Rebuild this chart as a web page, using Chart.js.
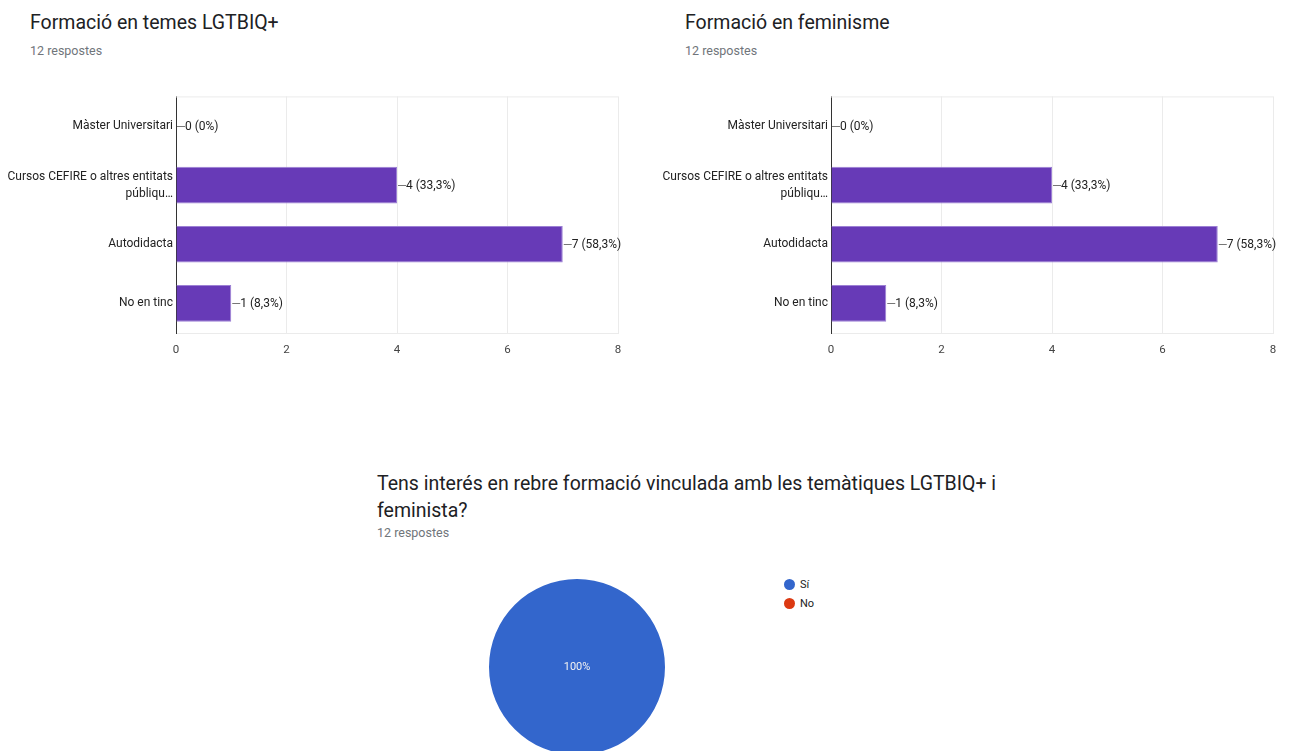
<!DOCTYPE html>
<html>
<head>
<meta charset="utf-8">
<script src="https://cdn.jsdelivr.net/npm/chart.js@4.4.0/dist/chart.umd.min.js"></script>
<style>
  html, body { margin: 0; padding: 0; background: #fff; overflow: hidden; }
  body { width: 1295px; height: 751px; position: relative; font-family: Roboto, Arial, sans-serif; }
  .title { position: absolute; font-size: 19.5px; color: #202124; line-height: 27px; }
  .sub { position: absolute; font-size: 12.5px; color: #70757a; }
  canvas { position: absolute; }
  #pie-legend { position: absolute; left: 784px; top: 575px; font-size: 11px; color: #222; }
  #pie-legend div { height: 19px; display: flex; align-items: center; }
  #pie-legend span.dot { width: 11px; height: 11px; border-radius: 50%; display: inline-block; margin-right: 5px; }
</style>
</head>
<body>
<div class="title" style="left:30px; top:9px;">Formació en temes LGTBIQ+</div>
<div class="sub" style="left:30px; top:43px;">12 respostes</div>
<div class="title" style="left:685px; top:9px;">Formació en feminisme</div>
<div class="sub" style="left:685px; top:43px;">12 respostes</div>

<canvas id="lgtbi" width="650" height="278" style="left:0; top:85px;"></canvas>
<canvas id="feminism" width="640" height="278" style="left:655px; top:85px;"></canvas>

<div class="title" style="left:377px; top:470px;">Tens interés en rebre formació vinculada amb les temàtiques LGTBIQ+ i<br>feminista?</div>
<div class="sub" style="left:377px; top:525px;">12 respostes</div>

<canvas id="pie" width="176" height="176" style="left:489px; top:579px;"></canvas>
<div id="pie-legend"></div>

<script>
const categories = ['Màster Universitari', ['Cursos CEFIRE o altres entitats', 'públiqu…'], 'Autodidacta', 'No en tinc'];
const lgtbiValues = [0, 4, 7, 1];
const feminismValues = [0, 4, 7, 1];
const xTicks = [0, 2, 4, 6, 8];
const totalResponses = 12;

const pieLabels = ['Sí', 'No'];
const pieValues = [12, 0];
const pieColors = ['#3366cc', '#dc3912'];

Chart.defaults.font.family = 'Roboto, Arial, sans-serif';
Chart.defaults.font.size = 12;
Chart.defaults.color = '#222';

function pct(v) {
    let p = Math.round(v / totalResponses * 1000) / 10;
    return String(p).replace('.', ',') + '%';
}

// label "—4 (33,3%)" after each bar
const valueLabels = {
    id: 'valueLabels',
    afterDatasetsDraw(chart) {
        const ctx = chart.ctx;
        const meta = chart.getDatasetMeta(0);
        const data = chart.data.datasets[0].data;
        ctx.save();
        ctx.font = '12px Roboto, Arial, sans-serif';
        ctx.textBaseline = 'middle';
        meta.data.forEach((bar, i) => {
            ctx.strokeStyle = '#777';
            ctx.lineWidth = 1;
            ctx.beginPath();
            ctx.moveTo(bar.x + 1, Math.round(bar.y) + 0.5);
            ctx.lineTo(bar.x + 9, Math.round(bar.y) + 0.5);
            ctx.stroke();
            ctx.fillStyle = '#222';
            ctx.fillText(data[i] + ' (' + pct(data[i]) + ')', bar.x + 9, bar.y + 1);
        });
        ctx.restore();
    }
};

// light top border of the plot area
const topBorder = {
    id: 'topBorder',
    beforeDatasetsDraw(chart) {
        const { ctx, chartArea } = chart;
        ctx.save();
        ctx.strokeStyle = '#ebebeb';
        ctx.beginPath();
        ctx.moveTo(chartArea.left, chartArea.top + 0.5);
        ctx.lineTo(chartArea.right, chartArea.top + 0.5);
        ctx.stroke();
        ctx.restore();
    }
};

function makeBar(id, values, rightPad) {
    return new Chart(document.getElementById(id), {
        type: 'bar',
        data: {
            labels: categories,
            datasets: [{
                data: values,
                backgroundColor: '#673ab7',
                borderColor: '#9c80d4',
                borderWidth: 1,
                borderSkipped: 'start',
                barPercentage: 0.62,
                categoryPercentage: 1
            }]
        },
        options: {
            indexAxis: 'y',
            responsive: false,
            animation: false,
            devicePixelRatio: 1,
            layout: { padding: { top: 7, right: rightPad, left: 0, bottom: 0 } },
            plugins: { legend: { display: false }, tooltip: { enabled: false } },
            scales: {
                x: {
                    min: 0, max: 8,
                    afterBuildTicks: (scale) => { scale.ticks = xTicks.map(v => ({ value: v })); },
                    afterFit: (scale) => { scale.height = 30; },
                    grid: { color: '#ebebeb', drawTicks: false },
                    border: { color: '#ebebeb' },
                    ticks: { padding: 10, color: '#444', font: { size: 11.5 } }
                },
                y: {
                    afterFit: (scale) => { scale.width = 176; },
                    grid: { display: false, drawTicks: false },
                    border: { color: '#333', width: 1 },
                    ticks: { padding: 3, color: '#222', font: { size: 12, lineHeight: 1.4 } }
                }
            }
        },
        plugins: [valueLabels, topBorder]
    });
}

makeBar('lgtbi', lgtbiValues, 32);
makeBar('feminism', feminismValues, 22);

const pieLabel = {
    id: 'pieLabel',
    afterDatasetsDraw(chart) {
        const ctx = chart.ctx;
        const meta = chart.getDatasetMeta(0);
        const data = chart.data.datasets[0].data;
        const total = data.reduce((a, b) => a + b, 0);
        ctx.save();
        ctx.font = '11px Roboto, Arial, sans-serif';
        ctx.fillStyle = '#f2f2f2';
        ctx.textAlign = 'center';
        ctx.textBaseline = 'middle';
        meta.data.forEach((arc, i) => {
            if (!data[i]) return;
            let p = arc.tooltipPosition();
            if (data[i] === total) p = { x: arc.x, y: arc.y };
            ctx.fillText(Math.round(data[i] / total * 100) + '%', p.x, p.y);
        });
        ctx.restore();
    }
};

new Chart(document.getElementById('pie'), {
    type: 'pie',
    data: {
        labels: pieLabels,
        datasets: [{ data: pieValues, backgroundColor: pieColors, borderWidth: 0 }]
    },
    options: {
        responsive: false,
        animation: false,
        devicePixelRatio: 1,
        plugins: { legend: { display: false }, tooltip: { enabled: false } }
    },
    plugins: [pieLabel]
});

const legend = document.getElementById('pie-legend');
pieLabels.forEach((l, i) => {
    const row = document.createElement('div');
    row.innerHTML = '<span class="dot" style="background:' + pieColors[i] + '"></span>' + l;
    legend.appendChild(row);
});
</script>
</body>
</html>
